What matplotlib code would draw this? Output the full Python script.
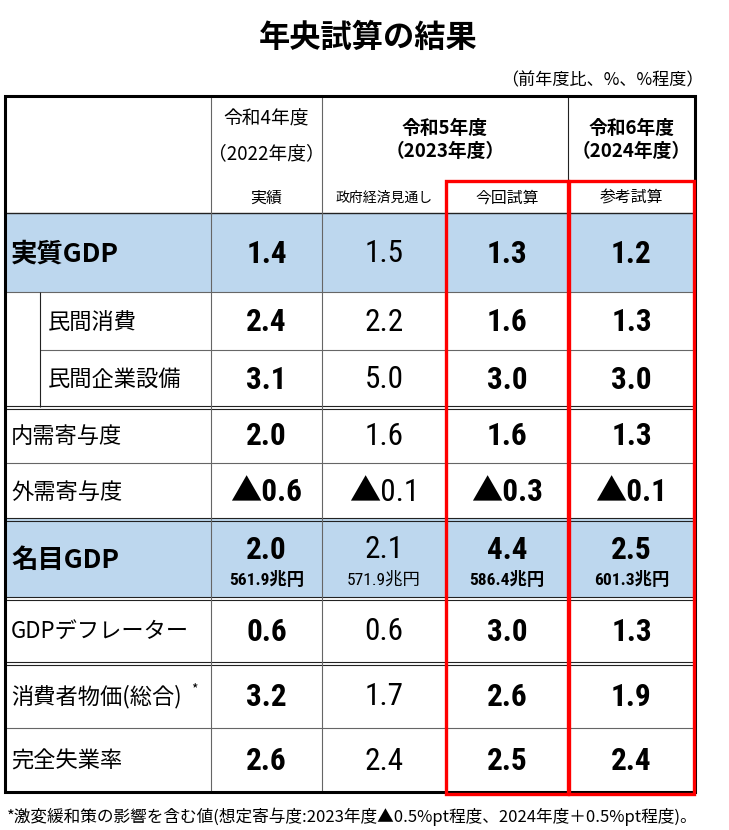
import matplotlib
matplotlib.use("Agg")
import matplotlib.pyplot as plt
from matplotlib import font_manager
from matplotlib.patches import Rectangle

# ---------------- data ----------------
title = "年央試算の結果"
unit_note = "（前年度比、%、%程度）"
row_labels = ["実質GDP", "民間消費", "民間企業設備", "内需寄与度", "外需寄与度",
              "名目GDP", "GDPデフレーター", "消費者物価(総合)", "完全失業率"]
col_sub_labels = ["実績", "政府経済見通し", "今回試算", "参考試算"]
actual_2022 = [1.4, 2.4, 3.1, 2.0, -0.6, 2.0, 0.6, 3.2, 2.6]
gov_outlook_2023 = [1.5, 2.2, 5.0, 1.6, -0.1, 2.1, 0.6, 1.7, 2.4]
estimate_2023 = [1.3, 1.6, 3.0, 1.6, -0.3, 4.4, 3.0, 2.6, 2.5]
reference_2024 = [1.2, 1.3, 3.0, 1.3, -0.1, 2.5, 1.3, 1.9, 2.4]
nominal_gdp_trillion = [561.9, 571.9, 586.4, 601.3]
footnote = "*激変緩和策の影響を含む値(想定寄与度:2023年度▲0.5%pt程度、2024年度＋0.5%pt程度)。"

# ---------------- fonts ----------------
names = {f.name for f in font_manager.fontManager.ttflist}
JP = "Noto Sans CJK JP"
NUM = "Liberation Sans"
for cand in ("Liberation Sans Narrow", "Arial Narrow", "Roboto Condensed"):
    if cand in names:
        NUM = cand
        break
plt.rcParams["font.family"] = [JP, "DejaVu Sans"]
numfam = [NUM, JP, "DejaVu Sans"]

W, H = 729, 830
fig = plt.figure(figsize=(W / 100, H / 100), dpi=100)
ax = fig.add_axes([0, 0, 1, 1])
ax.set_xlim(0, W)
ax.set_ylim(H, 0)
ax.axis("off")

# layout
xs = [5, 211, 322, 446, 568, 695]
ys = [96, 213, 292, 350, 407, 463, 519, 598, 663, 728, 792]
indent_x = 40
red_top = 181
blue = "#BDD7EE"
grey = "#666666"

# blue rows
for r in (0, 5):
    ax.add_patch(Rectangle((xs[0], ys[r + 1]), xs[-1] - xs[0], ys[r + 2] - ys[r + 1],
                           facecolor=blue, edgecolor="none", zorder=1))


def hline(y, x0, x1, color=grey, lw=0.8):
    ax.plot([x0, x1], [y, y], color=color, lw=lw, zorder=3, solid_capstyle="butt")


def vline(x, y0, y1, color=grey, lw=0.8):
    ax.plot([x, x], [y0, y1], color=color, lw=lw, zorder=3, solid_capstyle="butt")


hline(ys[1], xs[0], xs[-1], color="#222222", lw=1.0)
hline(ys[2], xs[0], xs[-1])
hline(ys[3], indent_x, xs[-1])
for r in (4, 6, 7, 8):
    hline(ys[r] - 1.5, xs[0], xs[-1], color="#222222", lw=0.8)
    hline(ys[r] + 1.5, xs[0], xs[-1], color="#222222", lw=0.8)
hline(ys[5], xs[0], xs[-1])
hline(ys[9], xs[0], xs[-1])

vline(xs[1], ys[0], ys[-1])
vline(xs[2], ys[0], ys[-1])
vline(xs[3], red_top, ys[-1])
vline(xs[4], ys[0], ys[-1], color="#222222")
vline(indent_x, ys[2], ys[4], color="#222222")

# outer border
ax.add_patch(Rectangle((xs[0], ys[0]), xs[-1] - xs[0], ys[-1] - ys[0],
                       facecolor="none", edgecolor="black", lw=2.2, zorder=4))

# red frames
for c in (3, 4):
    x0 = xs[c] + (0 if c == 3 else 1)
    x1 = xs[c + 1] - (1 if c == 4 else 0)
    ax.add_patch(Rectangle((x0, red_top), x1 - x0, ys[-1] + 2 - red_top,
                           facecolor="none", edgecolor="#FF0000", lw=2.4, zorder=5))

# title & unit note
ax.text(368, 38, title, ha="center", va="center", fontsize=22.5, fontweight="bold")
ax.text(704, 80, unit_note, ha="right", va="center", fontsize=12.3)

# header
cx = [(xs[i] + xs[i + 1]) / 2 for i in range(1, 5)]
ax.text(cx[0], 119, "令和4年度", ha="center", va="center", fontsize=13.5)
ax.text(cx[0], 154, "（2022年度）", ha="center", va="center", fontsize=13.5)
mid23 = (xs[2] + xs[4]) / 2
ax.text(mid23, 128, "令和5年度", ha="center", va="center", fontsize=13.5, fontweight="bold")
ax.text(mid23, 151, "（2023年度）", ha="center", va="center", fontsize=13.5, fontweight="bold")
ax.text(cx[3], 128, "令和6年度", ha="center", va="center", fontsize=13.5, fontweight="bold")
ax.text(cx[3], 151, "（2024年度）", ha="center", va="center", fontsize=13.5, fontweight="bold")
sub_sizes = [11.5, 10, 11.4, 11.4]
for i, lab in enumerate(col_sub_labels):
    ax.text(cx[i], 198, lab, ha="center", va="center", fontsize=sub_sizes[i])

# row labels
for r, lab in enumerate(row_labels):
    yc = (ys[r + 1] + ys[r + 2]) / 2
    if r in (0, 5):
        ax.text(11, yc + 2, lab, ha="left", va="center", fontsize=19, fontweight="bold")
    elif r in (1, 2):
        ax.text(48, yc + 1, lab, ha="left", va="center", fontsize=16)
    else:
        ax.text(11, yc + 1, lab, ha="left", va="center", fontsize=16)
        if r == 7:
            ax.text(191, yc - 6, "*", ha="left", va="center", fontsize=10)

# values
cols = [actual_2022, gov_outlook_2023, estimate_2023, reference_2024]


def fmt(v):
    return ("▲" if v < 0 else "") + f"{abs(v):.1f}"


for c, vals in enumerate(cols):
    weight = "normal" if c == 1 else "bold"
    for r, v in enumerate(vals):
        yc = (ys[r + 1] + ys[r + 2]) / 2
        if r == 5:
            ax.text(cx[c], yc - 9, fmt(v), ha="center", va="center",
                    fontsize=22.5, fontweight=weight, family=numfam)
            ax.text(cx[c], yc + 21, f"{nominal_gdp_trillion[c]:.1f}兆円", ha="center",
                    va="center", fontsize=12.5, fontweight=weight, family=numfam)
        else:
            ax.text(cx[c], yc + 1, fmt(v), ha="center", va="center",
                    fontsize=22.5, fontweight=weight, family=numfam)

# footnote
ax.text(7, 817, footnote, ha="left", va="center", fontsize=12)

fig.savefig("out.png", dpi=100)
